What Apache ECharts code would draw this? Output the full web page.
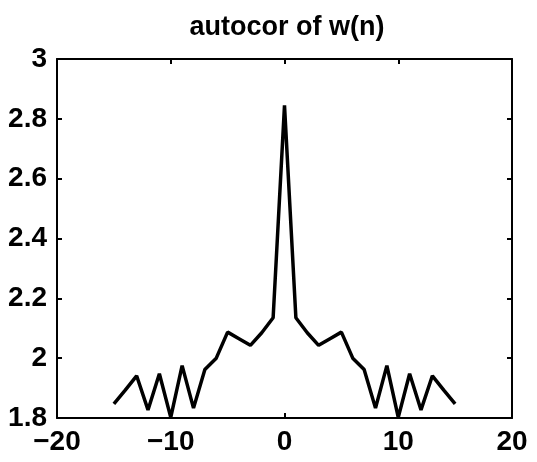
<!DOCTYPE html>
<html>
<head>
<meta charset="utf-8">
<script src="https://cdn.jsdelivr.net/npm/echarts@6/dist/echarts.min.js"></script>
<style>html,body{margin:0;padding:0;background:#fff;}#c{width:537px;height:462px;}</style>
</head>
<body>
<div id="c"></div>
<script>
var lags = [-15,-14,-13,-12,-11,-10,-9,-8,-7,-6,-5,-4,-3,-2,-1,0,1,2,3,4,5,6,7,8,9,10,11,12,13,14,15];
var autocor = [1.847,1.893,1.941,1.827,1.948,1.802,1.975,1.833,1.962,2.000,2.087,2.065,2.043,2.085,2.135,
               2.845,
               2.135,2.085,2.043,2.065,2.087,2.000,1.962,1.833,1.975,1.802,1.948,1.827,1.941,1.893,1.847];
var titleText = 'autocor of w(n)';
var xTicks = {min: -20, max: 20, step: 10};
var yTicks = {min: 1.8, max: 3, step: 0.2};

var pts = lags.map(function (x, i) { return [x, autocor[i]]; });
var font = 'Liberation Sans, Arial, Helvetica, sans-serif';
var chart = echarts.init(document.getElementById('c'), null, {renderer: 'canvas'});
function axisCommon(show) {
  return {
    axisLine: {show: true, onZero: false, lineStyle: {color: '#000', width: 2}},
    axisTick: {show: true, inside: true, length: 5, lineStyle: {color: '#000', width: 2}},
    splitLine: {show: false},
    axisLabel: {show: show}
  };
}
var xb = Object.assign(axisCommon(true), {type: 'value', position: 'bottom', min: xTicks.min, max: xTicks.max, interval: xTicks.step});
xb.axisLabel = {show: true, color: '#000', fontFamily: font, fontSize: 28, fontWeight: 'bold', margin: 10,
  formatter: function (v) { return v < 0 ? '\u2212' + Math.abs(v) : String(v); }};
var xt = Object.assign(axisCommon(false), {type: 'value', position: 'top', min: xTicks.min, max: xTicks.max, interval: xTicks.step});
var yl = Object.assign(axisCommon(true), {type: 'value', position: 'left', min: yTicks.min, max: yTicks.max, interval: yTicks.step});
yl.axisLabel = {show: true, color: '#000', fontFamily: font, fontSize: 28, fontWeight: 'bold', margin: 10,
  formatter: function (v) { return String(Math.round(v * 10) / 10); }};
var yr = Object.assign(axisCommon(false), {type: 'value', position: 'right', min: yTicks.min, max: yTicks.max, interval: yTicks.step});

chart.setOption({
  animation: false,
  backgroundColor: '#fff',
  title: {text: titleText, left: 282, top: 9, textAlign: 'center',
    textStyle: {color: '#000', fontFamily: font, fontSize: 27, fontWeight: 'bold'}},
  grid: {left: 57, right: 25, top: 59, bottom: 44, containLabel: false},
  xAxis: [xb, xt],
  yAxis: [yl, yr],
  series: [{type: 'line', xAxisIndex: 0, yAxisIndex: 0, data: pts, showSymbol: false,
    lineStyle: {color: '#000', width: 3.5}, itemStyle: {color: '#000'}}]
});
</script>
</body>
</html>
